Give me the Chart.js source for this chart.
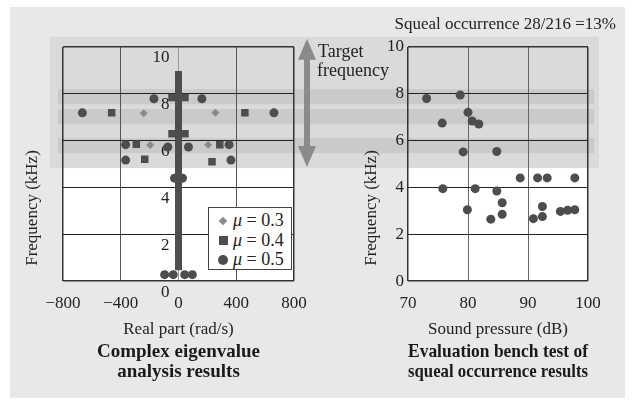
<!DOCTYPE html>
<html>
<head>
<meta charset="utf-8">
<script src="https://cdn.jsdelivr.net/npm/chart.js@4.4.1/dist/chart.umd.min.js"></script>
<style>
  body { margin: 0; background: #fff; }
  #wrap { position: relative; width: 633px; height: 403px; overflow: hidden; }
  #panel { position: absolute; left: 10px; top: 7px; width: 615px; height: 391px; background: #e7e8ea; }
  canvas { position: absolute; left: 0; top: 0; }
  #legend { position: absolute; left: 208px; top: 207px; width: 84px; height: 63px; box-sizing: border-box;
            border: 1px solid #444; background: #fff; padding: 3px 0 0 8px;
            font: 18px "Liberation Serif", "Times New Roman", serif; color: #222; }
  .row { display: flex; align-items: center; height: 19.5px; white-space: nowrap; }
  .symbox { width: 12px; display: flex; justify-content: center; margin-right: 4px; }
  .diamond { width: 6px; height: 6px; background: #8a8a8a; transform: rotate(45deg); }
  .square { width: 9px; height: 9px; background: #4d4d4d; }
  .circle { width: 10px; height: 10px; border-radius: 50%; background: #4d4d4d; }
</style>
</head>
<body>
<div id="wrap">
  <div id="panel"></div>
  <canvas id="eig" width="633" height="403"></canvas>
  <canvas id="bench" width="633" height="403"></canvas>
  <div id="legend"></div>
</div>
<script>
Chart.defaults.font.family = '"Liberation Serif", "Times New Roman", serif';
Chart.defaults.font.size = 17;
Chart.defaults.color = '#222';

// complex eigenvalue analysis: real part (rad/s) / frequency (kHz)
var mu03Real = [-241, 256, -196, 205];
var mu03Freq = [7.17, 7.19, 5.82, 5.83];
var mu04Real = [-463, 460, -292, 286, -234, 232, -45, 45, -45, 45];
var mu04Freq = [7.19, 7.19, 5.85, 5.83, 5.21, 5.10, 7.84, 7.84, 6.30, 6.30];
var mu05Real = [-170, 162, -666, 661, -366, 350, -74, 69, -366, 363, -28, 28, -96, -36, 43, 96];
var mu05Freq = [7.79, 7.79, 7.19, 7.19, 5.83, 5.83, 5.73, 5.73, 5.17, 5.17, 4.4, 4.4, 0.28, 0.28, 0.28, 0.28];
// dense run of modes sitting on real part = 0
var zeroRealFreqRange = [0.47, 8.97];
var muValues = ['0.3', '0.4', '0.5'];

// bench test: sound pressure (dB) / frequency (kHz)
var benchSpl = [73.1, 78.7, 75.7, 80.0, 80.7, 81.8, 79.2, 84.8, 88.7, 91.6, 93.2, 97.8,
                75.8, 81.2, 84.8, 79.9, 85.7, 85.7, 83.8, 90.9, 92.4, 92.4, 95.4, 96.6, 97.8];
var benchFreq = [7.8, 7.95, 6.75, 7.21, 6.84, 6.71, 5.52, 5.54, 4.41, 4.41, 4.41, 4.41,
                 3.95, 3.95, 3.85, 3.05, 3.35, 2.86, 2.65, 2.67, 3.19, 2.76, 2.98, 3.03, 3.05];

var realTicks = [-800, -400, 0, 400, 800];
var splTicks = [70, 80, 90, 100];
var freqTicks = [0, 2, 4, 6, 8, 10];

// target frequency zone and the squeal bands inside it (kHz)
var targetZone = [4.83, 10.44];
var targetBands = [[7.56, 8.2], [6.7, 7.35], [5.47, 6.11]];

function toPoints(xs, ys) {
    return xs.map(function(x, i) { return { x: x, y: ys[i] }; });
}

function makeBackdrop(o) {
    return {
        id: 'backdrop',
        beforeDraw: function(chart) {
            var ctx = chart.ctx, a = chart.chartArea, y = chart.scales.y;
            ctx.save();
            ctx.fillStyle = '#fff';
            ctx.fillRect(a.left, a.top, a.right - a.left, a.bottom - a.top);
            var zTop = y.getPixelForValue(targetZone[1]);
            var zBot = y.getPixelForValue(targetZone[0]);
            ctx.fillStyle = '#d9dadb';
            ctx.fillRect(o.zoneFrom, zTop, o.zoneTo - o.zoneFrom, zBot - zTop);
            ctx.fillStyle = '#c9cacb';
            targetBands.forEach(function(b) {
                var t = y.getPixelForValue(b[1]), btm = y.getPixelForValue(b[0]);
                ctx.fillRect(o.bandFrom, t, o.bandTo - o.bandFrom, btm - t);
            });
            if (o.arrowX) {
                // double arrow over the target zone
                var x = o.arrowX, top = zTop + 2, bot = zBot - 1, hw = 9, hh = 21, sw = 3;
                ctx.fillStyle = '#8b8b8b';
                ctx.beginPath();
                ctx.moveTo(x, top);
                ctx.lineTo(x + hw, top + hh);
                ctx.lineTo(x + sw, top + hh);
                ctx.lineTo(x + sw, bot - hh);
                ctx.lineTo(x + hw, bot - hh);
                ctx.lineTo(x, bot);
                ctx.lineTo(x - hw, bot - hh);
                ctx.lineTo(x - sw, bot - hh);
                ctx.lineTo(x - sw, top + hh);
                ctx.lineTo(x - hw, top + hh);
                ctx.closePath();
                ctx.fill();
            }
            ctx.restore();
        }
    };
}

function makeNotes(items) {
    return {
        id: 'notes',
        afterDraw: function(chart) {
            var ctx = chart.ctx;
            items.forEach(function(it) {
                ctx.save();
                ctx.font = (it.size || 17) + 'px "Liberation Serif", "Times New Roman", serif';
                ctx.fillStyle = '#222';
                ctx.textAlign = it.align || 'center';
                ctx.textBaseline = 'middle';
                ctx.translate(it.x, it.y);
                if (it.rotate) ctx.rotate(-Math.PI / 2);
                ctx.fillText(it.text, 0, 0);
                ctx.restore();
            });
        }
    };
}

function edgeGrid(min, max, inner, zero) {
    return {
        drawTicks: false,
        color: function(c) {
            var v = c.tick.value;
            if (v === min || v === max) return '#333';
            if (zero && v === 0) return zero;
            return inner;
        },
        lineWidth: function(c) {
            var v = c.tick.value;
            return (v === min || v === max) ? 1.5 : 1;
        }
    };
}

function xTitle(text) {
    return { display: true, text: text, padding: { top: -6, bottom: 0 } };
}

function bottomTitle(lines) {
    return {
        display: true, position: 'bottom', fullSize: false, text: lines, color: '#1a1a1a',
        font: { size: 19, weight: 'bold', lineHeight: '20px' },
        padding: { top: 2, bottom: 0 }
    };
}

new Chart(document.getElementById('eig'), {
    type: 'scatter',
    data: {
        datasets: [{
            label: 'μ = ' + muValues[0],
            data: toPoints(mu03Real, mu03Freq),
            pointStyle: 'rectRot', pointRadius: 4, backgroundColor: '#8a8a8a', borderWidth: 0
        }, {
            label: 'μ = ' + muValues[1],
            data: toPoints(mu04Real, mu04Freq),
            pointStyle: 'rect', pointRadius: 5.3, backgroundColor: '#4d4d4d', borderWidth: 0
        }, {
            label: 'μ = ' + muValues[2],
            data: toPoints(mu05Real, mu05Freq),
            pointStyle: 'circle', pointRadius: 4.5, backgroundColor: '#4d4d4d', borderWidth: 0
        }, {
            label: 'real part 0',
            data: [{ x: 0, y: zeroRealFreqRange[0] }, { x: 0, y: zeroRealFreqRange[1] }],
            showLine: true, borderColor: '#4d4d4d', borderWidth: 7, borderCapStyle: 'butt', pointRadius: 0
        }]
    },
    options: {
        responsive: false,
        animation: false,
        events: [],
        layout: { padding: { left: 63, right: 339, top: 47, bottom: 21 } },
        scales: {
            x: {
                min: -800, max: 800,
                afterBuildTicks: function(s) { s.ticks = realTicks.map(function(v) { return { value: v }; }); },
                ticks: {
                    padding: 12,
                    callback: function(v) { return v < 0 ? '\u2212' + Math.abs(v) : '' + v; }
                },
                grid: edgeGrid(-800, 800, '#555', '#9a9a9a'),
                border: { display: false },
                title: xTitle('Real part (rad/s)')
            },
            y: {
                position: { x: -62 },
                min: 0, max: 10,
                afterBuildTicks: function(s) { s.ticks = freqTicks.map(function(v) { return { value: v }; }); },
                ticks: { labelOffset: 11 },
                grid: edgeGrid(0, 10, '#222'),
                border: { display: false }
            }
        },
        plugins: {
            legend: { display: false },
            tooltip: { enabled: false },
            title: bottomTitle(['Complex eigenvalue', 'analysis results'])
        }
    },
    plugins: [
        makeBackdrop({ zoneFrom: 50, zoneTo: 300, bandFrom: 58, bandTo: 300 }),
        makeNotes([{ text: 'Frequency (kHz)', x: 33, y: 208, rotate: true }])
    ]
});

new Chart(document.getElementById('bench'), {
    type: 'scatter',
    data: {
        datasets: [{
            label: 'Squeal',
            data: toPoints(benchSpl, benchFreq),
            pointStyle: 'circle', pointRadius: 4.5, backgroundColor: '#4d4d4d', borderWidth: 0
        }]
    },
    options: {
        responsive: false,
        animation: false,
        events: [],
        layout: { padding: { left: 368, right: 45, top: 47, bottom: 21 } },
        scales: {
            x: {
                min: 70, max: 100,
                afterBuildTicks: function(s) { s.ticks = splTicks.map(function(v) { return { value: v }; }); },
                ticks: { padding: 12 },
                grid: edgeGrid(70, 100, '#666'),
                border: { display: false },
                title: xTitle('Sound pressure (dB)')
            },
            y: {
                position: 'left',
                min: 0, max: 10,
                afterBuildTicks: function(s) { s.ticks = freqTicks.map(function(v) { return { value: v }; }); },
                afterFit: function(s) { s.width = 40; },
                ticks: { padding: 4 },
                grid: edgeGrid(0, 10, '#222'),
                border: { display: false }
            }
        },
        plugins: {
            legend: { display: false },
            tooltip: { enabled: false },
            title: bottomTitle(['Evaluation bench test of', 'squeal occurrence results'])
        }
    },
    plugins: [
        makeBackdrop({ zoneFrom: 300, zoneTo: 599, bandFrom: 300, bandTo: 594, arrowX: 307 }),
        makeNotes([
            { text: 'Frequency (kHz)', x: 372, y: 208, rotate: true },
            { text: 'Target', x: 318, y: 52, align: 'left', size: 18 },
            { text: 'frequency', x: 317, y: 71, align: 'left', size: 18 },
            { text: 'Squeal occurrence 28/216 =13%', x: 616, y: 25, align: 'right' }
        ])
    ]
});

// legend with italic mu
var shapes = ['diamond', 'square', 'circle'];
var legend = document.getElementById('legend');
muValues.forEach(function(v, i) {
    var row = document.createElement('div');
    row.className = 'row';
    row.innerHTML = '<span class="symbox"><span class="' + shapes[i] + '"></span></span><i>\u03bc</i>&nbsp;=&nbsp;' + v;
    legend.appendChild(row);
});
</script>
</body>
</html>
